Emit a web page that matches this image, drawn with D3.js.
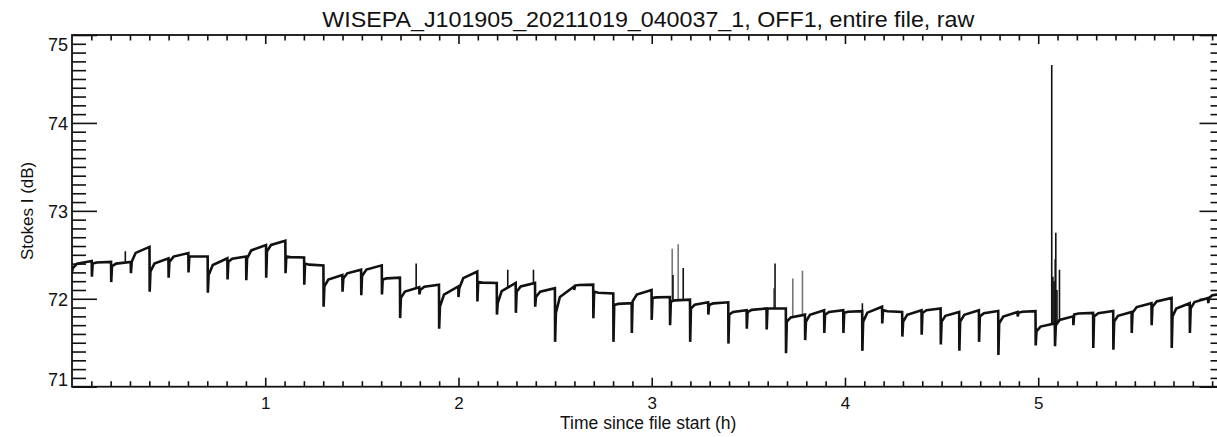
<!DOCTYPE html>
<html><head><meta charset="utf-8">
<script src="https://cdn.jsdelivr.net/npm/d3@7"></script>
<style>
body{margin:0;background:#fff;}
svg{display:block;}
text{font-family:"Liberation Sans",Arial,Helvetica,sans-serif;fill:#111;}
</style>
</head><body>
<svg id="c" width="1217" height="437"></svg>
<script>
// ---- data ----
const titleText = "WISEPA_J101905_20211019_040037_1, OFF1, entire file, raw";
const xLabel = "Time since file start (h)";
const yLabel = "Stokes I (dB)";
const xTickLabels = [1, 2, 3, 4, 5];
const yTickLabels = [71, 72, 73, 74, 75];

// segment start times (h), dip minimum at the start, value just after the dip, value at segment end
const segT = [0.000,0.103,0.203,0.305,0.402,0.500,0.603,0.703,0.805,0.902,
  1.005,1.105,1.202,1.302,1.400,1.497,1.604,1.698,1.798,1.900,
  2.000,2.098,2.199,2.297,2.397,2.500,2.599,2.698,2.802,2.897,
  3.000,3.095,3.199,3.293,3.397,3.492,3.595,3.695,3.794,3.893,
  3.992,4.090,4.193,4.297,4.397,4.496,4.592,4.694,4.794,4.894,
  4.987,5.087,5.182,5.285,5.389,5.484,5.587,5.691,5.785,5.880];
const segDip = [72.30,72.25,72.19,72.29,72.08,72.24,72.30,72.07,72.22,72.21,
  72.24,72.29,72.16,71.91,72.08,72.04,72.05,71.78,72.05,71.66,
  72.02,71.97,71.82,71.84,71.91,71.51,72.10,71.78,71.51,71.61,
  71.76,71.70,71.51,71.82,71.49,71.66,71.65,71.38,71.53,71.61,
  71.61,71.41,71.72,71.57,71.59,71.48,71.41,71.51,71.36,71.80,
  71.47,71.46,71.70,71.44,71.42,71.61,71.70,71.44,71.61,71.95];
const segStart = [72.35,72.40,72.37,72.42,72.31,72.42,72.48,72.27,72.42,72.46,
  72.54,72.48,72.40,72.14,72.23,72.26,72.22,72.01,72.10,71.91,
  72.12,72.19,71.95,72.08,72.02,71.84,72.15,72.08,71.93,71.97,
  72.01,71.97,71.89,71.93,71.82,71.85,71.89,71.74,71.74,71.82,
  71.84,71.74,71.87,71.74,71.84,71.74,71.74,71.80,71.72,71.84,
  71.63,71.70,71.82,71.80,71.74,71.84,71.91,71.80,71.89,72.01];
const segEnd = [72.43,72.42,72.42,72.59,72.46,72.52,72.48,72.46,72.48,72.61,
  72.66,72.47,72.38,72.27,72.33,72.38,72.24,72.13,72.16,72.14,
  72.31,72.18,72.18,72.18,72.12,72.14,72.16,72.06,71.95,72.10,
  72.02,71.99,71.96,71.96,71.87,71.89,71.89,71.82,71.87,71.87,
  71.86,71.91,71.85,71.87,71.89,71.85,71.87,71.86,71.85,71.86,
  71.72,71.80,71.84,71.86,71.85,71.95,72.01,71.95,72.01,72.06];
const endTime = 5.964;

// narrow upward spikes: time (h), top value (dB), drawn grey?
const spikeT = [0.276,1.781,2.255,2.388,3.106,3.110,3.137,3.163,3.632,3.638,3.730,3.780,4.090,
  5.070,5.076,5.082,5.088,5.091,5.097,5.110];
const spikeV = [72.54,72.40,72.33,72.33,72.57,72.27,72.62,72.35,72.12,72.40,72.23,72.32,71.95,
  74.66,72.25,72.20,72.45,72.75,72.10,72.33];
const spikeGrey = [0,0,0,0,1,0,1,0,1,0,1,1,0,
  0,0,0,0,0,0,0];

// ---- drawing ----
const svg = d3.select("#c");
const L = 72, R = 1224.5, T = 35, B = 386.7;
const x = d3.scaleLinear().domain([0, endTime]).range([L, R]);
const y = d3.scaleLinear().domain([71, 75]).range([B, T]);

// build trace points from the segment arrays
const pts = [];
segT.forEach((t, i) => {
  const tNext = i < segT.length - 1 ? segT[i + 1] : endTime;
  pts.push([t, segDip[i]]);
  pts.push([t + 0.004, segStart[i]]);
  pts.push([t + 0.25 * (tNext - t), segStart[i] + 0.6 * (segEnd[i] - segStart[i])]);
  pts.push([tNext - 0.001, segEnd[i]]);
});
function baseAt(t) {
  for (let k = 0; k < pts.length - 1; k++) {
    if (t >= pts[k][0] && t <= pts[k + 1][0]) {
      const f = (t - pts[k][0]) / (pts[k + 1][0] - pts[k][0] || 1);
      return pts[k][1] + f * (pts[k + 1][1] - pts[k][1]);
    }
  }
  return pts[pts.length - 1][1];
}

svg.append("clipPath").attr("id", "pc").append("rect")
  .attr("x", L).attr("y", T).attr("width", R - L).attr("height", B - T);

const g = svg.append("g").attr("clip-path", "url(#pc)");
// spikes
g.selectAll("line.sp").data(spikeT).join("line")
  .attr("x1", d => x(d)).attr("x2", d => x(d))
  .attr("y1", d => y(baseAt(d))).attr("y2", (d, i) => y(spikeV[i]))
  .attr("stroke", (d, i) => spikeGrey[i] ? "#777" : "#111")
  .attr("stroke-width", 1.6);
// trace
g.append("path").datum(pts)
  .attr("d", d3.line().x(d => x(d[0])).y(d => y(d[1])))
  .attr("fill", "none").attr("stroke", "#111").attr("stroke-width", 2.6)
  .attr("stroke-linejoin", "miter").attr("stroke-miterlimit", 2);

// axes
const xMinor = d3.range(1, 60).map(d => d / 10).filter(d => Math.abs(d - Math.round(d)) > 1e-6);
const yMinor = d3.range(711, 750).map(d => d / 10).filter(d => Math.abs(d - Math.round(d)) > 1e-6);

function styleAxis(sel) {
  sel.select(".domain").remove();
  sel.selectAll(".tick line").attr("stroke", "#111").attr("stroke-width", 1.6);
}
// bottom
svg.append("g").attr("transform", `translate(0,${B})`)
  .call(d3.axisBottom(x).tickValues(xTickLabels).tickSize(-9).tickPadding(10.5).tickFormat(d3.format("d")))
  .call(styleAxis)
  .selectAll("text").attr("font-size", 17).attr("fill", "#111");
svg.append("g").attr("transform", `translate(0,${B})`)
  .call(d3.axisBottom(x).tickValues(xMinor).tickSize(-5.5).tickFormat(""))
  .call(styleAxis);
// top
svg.append("g").attr("transform", `translate(0,${T})`)
  .call(d3.axisTop(x).tickValues(xTickLabels).tickSize(-9).tickFormat(""))
  .call(styleAxis);
svg.append("g").attr("transform", `translate(0,${T})`)
  .call(d3.axisTop(x).tickValues(xMinor).tickSize(-5.5).tickFormat(""))
  .call(styleAxis);
// left
const yl = svg.append("g").attr("transform", `translate(${L},0)`)
  .call(d3.axisLeft(y).tickValues(yTickLabels).tickSize(-25).tickPadding(4).tickFormat(d3.format("d")))
  .call(styleAxis);
yl.selectAll("text").attr("font-size", 18).attr("fill", "#111")
  .attr("dy", d => d === 75 ? "0.85em" : d === 71 ? "-0.05em" : "0.35em");
svg.append("g").attr("transform", `translate(${L},0)`)
  .call(d3.axisLeft(y).tickValues(yMinor).tickSize(-14).tickFormat(""))
  .call(styleAxis);
// right
svg.append("g").attr("transform", `translate(${R},0)`)
  .call(d3.axisRight(y).tickValues(yTickLabels).tickSize(-25).tickFormat(""))
  .call(styleAxis);
svg.append("g").attr("transform", `translate(${R},0)`)
  .call(d3.axisRight(y).tickValues(yMinor).tickSize(-14).tickFormat(""))
  .call(styleAxis);

// frame
svg.append("rect").attr("x", L).attr("y", T).attr("width", R - L).attr("height", B - T)
  .attr("fill", "none").attr("stroke", "#111").attr("stroke-width", 1.8);

// titles
svg.append("text").attr("x", (L + R) / 2).attr("y", 26.5).attr("text-anchor", "middle")
  .attr("font-size", 21.5).attr("textLength", 652).attr("lengthAdjust", "spacingAndGlyphs")
  .text(titleText);
svg.append("text").attr("x", (L + R) / 2).attr("y", 429).attr("text-anchor", "middle")
  .attr("font-size", 17.5).text(xLabel);
svg.append("text").attr("transform", `translate(33,${(T + B) / 2}) rotate(-90)`)
  .attr("text-anchor", "middle").attr("font-size", 17).attr("fill", "#4a4038").text(yLabel);
</script>
</body></html>
